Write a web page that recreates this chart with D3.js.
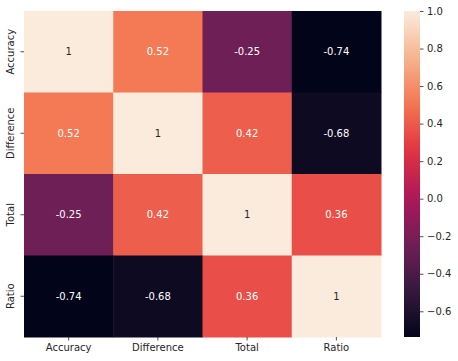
<!DOCTYPE html>
<html>
<head>
<meta charset="utf-8">
<script src="https://cdn.jsdelivr.net/npm/d3@7"></script>
<style>
body{margin:0;background:#fff;}
text{font-family:"DejaVu Sans",sans-serif;font-size:10px;fill:#262626;}
</style>
</head>
<body>
<div class="chart"></div>
<script>
var labels = ["Accuracy","Difference","Total","Ratio"];
var corr = [
    [1, 0.52, -0.25, -0.74],
    [0.52, 1, 0.42, -0.68],
    [-0.25, 0.42, 1, 0.36],
    [-0.74, -0.68, 0.36, 1]
];
var cbar_ticks = [1.0,0.8,0.6,0.4,0.2,0.0,-0.2,-0.4,-0.6];
var vmin = -0.737, vmax = 1;
// rocket palette stops
var rocket = ["#03051a","#35193e","#701f57","#ad1759","#e13342","#f37651","#f6b48f","#faebdd"];

var svg = d3.select("div.chart").append("svg")
    .attr("width",458).attr("height",361);

var x = d3.scaleBand().domain(labels).range([24,381]);
var y = d3.scaleBand().domain(labels).range([11,337]);
var t = d3.scaleLinear().domain([vmin,vmax]).range([0,1]);
var color = d3.scaleLinear()
    .domain(rocket.map(function(d,i){return i/(rocket.length-1);}))
    .range(rocket).interpolate(d3.interpolateRgb);
function col(v){return color(t(v));}
function lum(c){
    var r = d3.rgb(c);
    function f(u){u/=255;return u<=0.03928?u/12.92:Math.pow((u+0.055)/1.055,2.4);}
    return 0.2126*f(r.r)+0.7152*f(r.g)+0.0722*f(r.b);
}

var cells = [];
corr.forEach(function(row,i){
    row.forEach(function(v,j){cells.push({r:labels[i],c:labels[j],v:v});});
});

svg.selectAll("rect.cell").data(cells).enter().append("rect")
    .attr("class","cell")
    .attr("x",function(d){return x(d.c);})
    .attr("y",function(d){return y(d.r);})
    .attr("width",x.bandwidth()+0.5)
    .attr("height",y.bandwidth()+0.5)
    .attr("fill",function(d){return col(d.v);});

svg.selectAll("text.annot").data(cells).enter().append("text")
    .attr("class","annot")
    .attr("x",function(d){return x(d.c)+x.bandwidth()/2;})
    .attr("y",function(d){return y(d.r)+y.bandwidth()/2;})
    .attr("dy","0.35em")
    .attr("text-anchor","middle")
    .style("fill",function(d){return lum(col(d.v))>0.408?"#262626":"#ffffff";})
    .text(function(d){return String(d.v);});

// x axis
var xa = svg.append("g").attr("transform","translate(0,337)")
    .call(d3.axisBottom(x).tickSize(3.5).tickPadding(3.5));
xa.select(".domain").remove();
xa.selectAll("line").attr("stroke","#262626").attr("stroke-width",0.8);
xa.selectAll("text").style("font-size","10px").attr("fill","#262626");

// y axis
var ya = svg.append("g").attr("transform","translate(24,0)")
    .call(d3.axisLeft(y).tickSize(3.5));
ya.select(".domain").remove();
ya.selectAll("line").attr("stroke","#262626").attr("stroke-width",0.8);
ya.selectAll("text").remove();
svg.selectAll("text.ylab").data(labels).enter().append("text")
    .attr("class","ylab")
    .attr("transform",function(d){return "translate(14,"+(y(d)+y.bandwidth()/2)+") rotate(-90)";})
    .attr("text-anchor","middle")
    .text(function(d){return d;});

// colorbar
var cy = d3.scaleLinear().domain([vmin,vmax]).range([337,11]);
var defs = svg.append("defs");
var grad = defs.append("linearGradient").attr("id","cbgrad")
    .attr("x1","0").attr("y1","1").attr("x2","0").attr("y2","0");
d3.range(0,1.0001,0.05).forEach(function(p){
    grad.append("stop").attr("offset",p).attr("stop-color",color(p));
});
svg.append("rect").attr("x",404).attr("y",11).attr("width",16).attr("height",326)
    .attr("fill","url(#cbgrad)");
var ca = svg.append("g").attr("transform","translate(420,0)")
    .call(d3.axisRight(cy).tickValues(cbar_ticks).tickSize(3.5).tickPadding(3.5)
        .tickFormat(function(d){return d3.format(".1f")(d).replace("-","\u2212");}));
ca.select(".domain").remove();
ca.selectAll("line").attr("stroke","#262626").attr("stroke-width",0.8);
ca.selectAll("text").style("font-size","10px").attr("fill","#262626");
</script>
</body>
</html>
